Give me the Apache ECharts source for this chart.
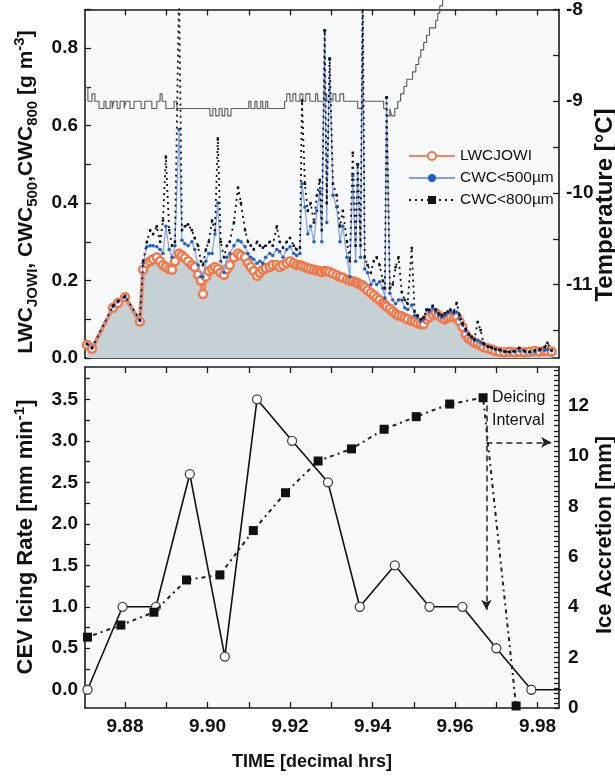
<!DOCTYPE html>
<html>
<head>
<meta charset="utf-8">
<script src="https://cdn.jsdelivr.net/npm/echarts@6/dist/echarts.min.js"></script>
<style>
  html, body { margin: 0; padding: 0; background: #ffffff; }
  #c { width: 615px; height: 780px; }
</style>
</head>
<body>
<div id="c"></div>
<script>
// ---- Upper panel: water content samples (time in decimal hours) ----
const tTop = [
  9.8708, 9.8720, 9.8771, 9.8783, 9.8800, 9.8836,
  9.8844, 9.8853, 9.8861, 9.8868, 9.8877, 9.8885, 9.8892, 9.8899, 9.8907, 9.8914, 9.8921,
  9.8931, 9.8938, 9.8945, 9.8953, 9.8962, 9.8969, 9.8977, 9.8984, 9.8989, 9.8996, 9.9003, 9.9011, 9.9018, 9.9025, 9.9032, 9.9040, 9.9047, 9.9054,
  9.9064, 9.9074, 9.9081, 9.9091, 9.9098, 9.9105, 9.9112, 9.9120, 9.9127, 9.9134, 9.9141, 9.9151, 9.9158, 9.9168, 9.9175, 9.9183, 9.9192, 9.9200, 9.9209, 9.9216, 9.9224,
  9.9229, 9.9236, 9.9243, 9.9250, 9.9258, 9.9265, 9.9272, 9.9277, 9.9284, 9.9289, 9.9296,
  9.9304, 9.9313, 9.9321, 9.9328, 9.9338, 9.9345, 9.9352, 9.9359, 9.9364, 9.9371, 9.9376,
  9.9381, 9.9388, 9.9396, 9.9403, 9.9410, 9.9417, 9.9425, 9.9430, 9.9434,
  9.9442, 9.9449, 9.9456, 9.9463, 9.9471, 9.9478, 9.9485, 9.9495,
  9.9502, 9.9509, 9.9517, 9.9524, 9.9531, 9.9538, 9.9546, 9.9553, 9.9560, 9.9568, 9.9575, 9.9582, 9.9589, 9.9597, 9.9604,
  9.9611, 9.9618, 9.9626, 9.9633, 9.9640, 9.9647, 9.9655, 9.9662, 9.9669, 9.9679,
  9.9689, 9.9698, 9.9708, 9.9720, 9.9732, 9.9744, 9.9756, 9.9769, 9.9781, 9.9793, 9.9805, 9.9817, 9.9824, 9.9834
];
const lwcJowi = [
  0.034, 0.024, 0.130, 0.142, 0.157, 0.094,
  0.228, 0.245, 0.250, 0.255, 0.260, 0.250, 0.240, 0.235, 0.230, 0.228, 0.250,
  0.270, 0.265, 0.258, 0.250, 0.240, 0.235, 0.215, 0.200, 0.165, 0.210, 0.225, 0.230, 0.235, 0.230, 0.220, 0.215, 0.230, 0.240,
  0.260, 0.270, 0.265, 0.260, 0.245, 0.235, 0.225, 0.212, 0.220, 0.228, 0.232, 0.235, 0.240, 0.240, 0.235, 0.240, 0.245, 0.250, 0.245, 0.240, 0.240,
  0.238, 0.235, 0.232, 0.230, 0.228, 0.226, 0.225, 0.222, 0.225, 0.224, 0.222,
  0.218, 0.214, 0.210, 0.207, 0.203, 0.200, 0.198, 0.196, 0.193, 0.190, 0.188,
  0.182, 0.175, 0.168, 0.162, 0.155, 0.150, 0.142, 0.138, 0.133,
  0.127, 0.120, 0.114, 0.110, 0.108, 0.104, 0.100, 0.096,
  0.094, 0.090, 0.087, 0.088, 0.100, 0.106, 0.112, 0.116, 0.110, 0.104, 0.100, 0.104, 0.106, 0.105, 0.106,
  0.094, 0.080, 0.060, 0.050, 0.045, 0.040, 0.036, 0.032, 0.028, 0.025,
  0.022, 0.018, 0.016, 0.015, 0.016, 0.015, 0.016, 0.015, 0.016, 0.018, 0.017, 0.018, 0.018, 0.017
];
const cwc500 = [
  0.036, 0.026, 0.133, 0.145, 0.157, 0.096,
  0.245, 0.287, 0.290, 0.290, 0.287, 0.280, 0.270, 0.340, 0.280, 0.260, 0.290,
  0.590, 0.304, 0.295, 0.290, 0.300, 0.280, 0.240, 0.210, 0.210, 0.250, 0.270, 0.270, 0.320, 0.400, 0.250, 0.220, 0.260, 0.270,
  0.290, 0.304, 0.300, 0.287, 0.270, 0.260, 0.255, 0.245, 0.250, 0.245, 0.260, 0.270, 0.265, 0.280, 0.275, 0.260, 0.280, 0.287, 0.270, 0.265, 0.270,
  0.450, 0.390, 0.320, 0.340, 0.300, 0.380, 0.430, 0.300, 0.846, 0.350, 0.773,
  0.420, 0.390, 0.300, 0.340, 0.260, 0.210, 0.470, 0.250, 0.500, 0.260, 0.950,
  0.230, 0.220, 0.190, 0.200, 0.190, 0.197, 0.180, 0.155, 0.673,
  0.167, 0.150, 0.140, 0.150, 0.150, 0.130, 0.125, 0.137,
  0.110, 0.106, 0.095, 0.100, 0.124, 0.120, 0.129, 0.120, 0.110, 0.105, 0.110, 0.116, 0.120, 0.115, 0.119,
  0.100, 0.085, 0.070, 0.060, 0.052, 0.045, 0.045, 0.040, 0.035, 0.030,
  0.026, 0.022, 0.020, 0.016, 0.015, 0.016, 0.018, 0.016, 0.015, 0.016, 0.020, 0.020, 0.022, 0.019
];
const cwc800 = [
  0.036, 0.026, 0.135, 0.147, 0.160, 0.098,
  0.250, 0.300, 0.330, 0.320, 0.340, 0.300, 0.355, 0.520, 0.330, 0.290, 0.300,
  0.950, 0.330, 0.340, 0.345, 0.330, 0.310, 0.290, 0.250, 0.240, 0.280, 0.300, 0.355, 0.330, 0.567, 0.300, 0.260, 0.290, 0.300,
  0.350, 0.440, 0.400, 0.330, 0.300, 0.290, 0.280, 0.300, 0.290, 0.285, 0.290, 0.300, 0.290, 0.340, 0.300, 0.285, 0.300, 0.310, 0.290, 0.280, 0.285,
  0.665, 0.450, 0.380, 0.400, 0.350, 0.420, 0.460, 0.330, 0.846, 0.400, 0.773,
  0.450, 0.420, 0.340, 0.380, 0.300, 0.250, 0.530, 0.290, 0.500, 0.290, 0.950,
  0.260, 0.240, 0.220, 0.250, 0.260, 0.240, 0.200, 0.180, 0.673,
  0.180, 0.190, 0.235, 0.260, 0.170, 0.150, 0.140, 0.284,
  0.120, 0.110, 0.100, 0.105, 0.125, 0.125, 0.135, 0.125, 0.115, 0.110, 0.115, 0.120, 0.125, 0.120, 0.142,
  0.110, 0.090, 0.075, 0.062, 0.055, 0.048, 0.093, 0.072, 0.038, 0.030,
  0.027, 0.023, 0.021, 0.017, 0.016, 0.018, 0.026, 0.018, 0.016, 0.020, 0.022, 0.028, 0.039, 0.020
];

// ---- Upper panel: air temperature (°C), stepped record ----
const tTemp = [
  9.8703, 9.8710, 9.8720, 9.8727, 9.8737, 9.8749, 9.8754, 9.8764, 9.8769, 9.8773,
  9.8781, 9.8788, 9.8798, 9.8802, 9.8812, 9.8822, 9.8839, 9.8848, 9.8865, 9.8877,
  9.8885, 9.8890, 9.8899, 9.8919, 9.8926, 9.9006, 9.9013, 9.9020, 9.9028, 9.9035,
  9.9042, 9.9049, 9.9057, 9.9100, 9.9105, 9.9115, 9.9120, 9.9129, 9.9134, 9.9141,
  9.9146, 9.9187, 9.9192, 9.9200, 9.9207, 9.9214, 9.9224, 9.9231, 9.9238, 9.9248,
  9.9262, 9.9267, 9.9282, 9.9289, 9.9304, 9.9311, 9.9321, 9.9330, 9.9364, 9.9376,
  9.9427, 9.9434, 9.9442, 9.9446, 9.9454, 9.9461, 9.9468, 9.9476, 9.9483, 9.9497,
  9.9505, 9.9512, 9.9517, 9.9524, 9.9531, 9.9538, 9.9553, 9.9558, 9.9563, 9.9570
];
const temperature = [
  -8.85, -9.00, -8.92, -9.00, -9.08, -9.00, -9.08, -9.00, -9.08, -9.00,
  -9.08, -9.00, -9.08, -9.00, -9.08, -9.00, -9.08, -9.00, -9.08, -9.00,
  -8.92, -9.00, -9.08, -9.00, -9.08, -9.16, -9.08, -9.16, -9.08, -9.16,
  -9.08, -9.16, -9.08, -9.00, -9.08, -9.00, -9.08, -9.00, -9.08, -9.00,
  -9.08, -9.00, -8.92, -9.00, -8.92, -9.00, -8.92, -9.00, -8.92, -9.00,
  -8.92, -9.00, -8.92, -9.00, -8.92, -9.00, -8.92, -9.00, -9.08, -9.00,
  -9.08, -9.16, -9.08, -9.16, -9.08, -9.00, -8.92, -8.84, -8.76, -8.68,
  -8.60, -8.52, -8.44, -8.36, -8.28, -8.20, -8.12, -8.04, -7.96, -7.88
];

// ---- Lower panel: cylinder icing rate and accreted ice ----
const tIcing = [9.8709, 9.8794, 9.8875, 9.8957, 9.9042, 9.9120, 9.9205, 9.9292, 9.9369, 9.9454, 9.9538, 9.9618, 9.9700, 9.9785];
const icingRate = [0.0, 1.0, 1.0, 2.6, 0.4, 3.5, 3.0, 2.5, 1.0, 1.5, 1.0, 1.0, 0.5, 0.0];
const icingTail = [9.9894, 0.0];

const tAccretion = [9.8709, 9.8790, 9.8870, 9.8949, 9.9030, 9.9111, 9.9189, 9.9268, 9.9349, 9.9428, 9.9506, 9.9587, 9.9668, 9.9748];
const iceAccretion = [2.81, 3.29, 3.80, 5.08, 5.28, 7.04, 8.54, 9.80, 10.28, 11.06, 11.56, 12.06, 12.31, 0.08];

// Deicing interval arrows: [time, ice accretion mm] start/end
const deicingDown = [[9.9676, 12.0], [9.9676, 3.9]];
const deicingRight = [[9.9676, 10.54], [9.9833, 10.54]];

// ---- Axis ticks and labels ----
const timeTicks = [9.88, 9.89, 9.90, 9.91, 9.92, 9.93, 9.94, 9.95, 9.96, 9.97, 9.98];
const timeLabels = [9.88, 9.90, 9.92, 9.94, 9.96, 9.98];
const tempTicks = [-11.5, -11, -10.5, -10, -9.5, -9, -8.5, -8];
const tempLabels = [-11, -10, -9, -8];
const rateTicks = [0, 0.25, 0.5, 0.75, 1, 1.25, 1.5, 1.75, 2, 2.25, 2.5, 2.75, 3, 3.25, 3.5, 3.75];
const rateLabels = [0, 0.5, 1, 1.5, 2, 2.5, 3, 3.5];
const accretionLabels = [0, 2, 4, 6, 8, 10, 12];
const ACC_MAX = 13.53;
// ruler ticks every 0.2 mm along the ice accretion axis
const accretionRuler = [];
for (let k = 0; k * 0.2 <= ACC_MAX; k++) accretionRuler.push(Math.round(k * 2) / 10);

const pairs = (ts, vs) => ts.map((t, i) => [t, vs[i]]);

const FONT = '"Liberation Sans", Arial, sans-serif';
const INK = '#1b1b1b';
const X_MIN = 9.8703, X_MAX = 9.9852;
const labelStyle = { color: '#111', fontSize: 19, fontWeight: 'bold', fontFamily: FONT };
const lineCfg = { show: true, onZero: false, lineStyle: { color: INK, width: 1.6 } };
const tickStyle = { color: INK, width: 1.3 };

function xAxisCfg(gridIndex, position, withLabels) {
  return {
    type: 'value', gridIndex, position, min: X_MIN, max: X_MAX,
    axisLine: lineCfg,
    axisTick: { show: true, inside: true, length: 6, customValues: timeTicks, lineStyle: tickStyle },
    axisLabel: withLabels
      ? Object.assign({ show: true, customValues: timeLabels, formatter: v => v.toFixed(2), margin: 9 }, labelStyle)
      : { show: false },
    splitLine: { show: false }
  };
}

const chart = echarts.init(document.getElementById('c'), null, { renderer: 'canvas' });

const option = {
  animation: false,
  backgroundColor: '#ffffff',
  grid: [
    { left: 85, top: 9, width: 474, height: 349, show: true, backgroundColor: '#f8f9fb', borderWidth: 0 },
    { left: 85, top: 367, width: 474, height: 341, show: true, backgroundColor: '#f8f9fb', borderWidth: 0 }
  ],
  xAxis: [
    xAxisCfg(0, 'bottom', false),
    xAxisCfg(0, 'top', false),
    xAxisCfg(1, 'bottom', true),
    xAxisCfg(1, 'top', false)
  ],
  yAxis: [
    {
      type: 'value', gridIndex: 0, position: 'left', min: 0, max: 0.9, interval: 0.1,
      axisLine: lineCfg,
      axisTick: { show: true, inside: true, length: 6, lineStyle: tickStyle },
      axisLabel: Object.assign({
        margin: 7,
        formatter: v => { const k = Math.round(v * 10); return (k % 2 === 0 && k <= 8) ? (k / 10).toFixed(1) : ''; }
      }, labelStyle),
      splitLine: { show: false }
    },
    {
      type: 'value', gridIndex: 0, position: 'right', min: -11.8, max: -8,
      axisLine: lineCfg,
      axisTick: { show: true, inside: true, length: 6, customValues: tempTicks, lineStyle: tickStyle },
      axisLabel: Object.assign({ margin: 7, customValues: tempLabels, formatter: v => String(v) }, labelStyle),
      splitLine: { show: false }
    },
    {
      type: 'value', gridIndex: 1, position: 'left', min: -0.22, max: 3.89,
      axisLine: lineCfg,
      axisTick: { show: true, inside: true, length: 5, customValues: rateTicks, lineStyle: tickStyle },
      axisLabel: Object.assign({ margin: 7, customValues: rateLabels, formatter: v => v.toFixed(1) }, labelStyle),
      splitLine: { show: false }
    },
    {
      type: 'value', gridIndex: 1, position: 'right', min: 0, max: ACC_MAX,
      axisLine: lineCfg,
      axisTick: { show: true, inside: true, length: 5, customValues: accretionRuler, lineStyle: { color: INK, width: 1.3 } },
      axisLabel: Object.assign({ margin: 9, customValues: accretionLabels, formatter: v => String(v) }, labelStyle),
      splitLine: { show: false }
    }
  ],
  legend: {
    data: ['LWCJOWI', 'CWC<500µm', 'CWC<800µm'],
    orient: 'vertical', left: 403, top: 143,
    itemWidth: 46, itemHeight: 10, itemGap: 6,
    textStyle: { color: '#111', fontSize: 15.5, lineHeight: 14, fontFamily: FONT },
    selectedMode: false
  },
  series: [
    {
      name: 'LWCJOWI', type: 'line', xAxisIndex: 0, yAxisIndex: 0,
      data: pairs(tTop, lwcJowi),
      symbol: 'circle', symbolSize: 8,
      lineStyle: { color: '#f4875a', width: 4 },
      itemStyle: { color: '#ffffff', borderColor: '#f2784a', borderWidth: 2.5 },
      areaStyle: { color: '#c6d1d6', opacity: 1 },
      z: 2
    },
    {
      name: 'CWC<500µm', type: 'line', xAxisIndex: 0, yAxisIndex: 0,
      data: pairs(tTop, cwc500),
      symbol: 'circle', symbolSize: 3.5,
      lineStyle: { color: '#7f9fe6', width: 1.2 },
      itemStyle: { color: '#1c5fc7' },
      z: 3
    },
    {
      name: 'CWC<800µm', type: 'line', xAxisIndex: 0, yAxisIndex: 0,
      data: pairs(tTop, cwc800),
      symbol: 'rect', symbolSize: 2.5,
      lineStyle: { color: '#111', width: 1.8, type: [2, 4] },
      itemStyle: { color: '#111' },
      z: 4
    },
    {
      name: 'Temperature', type: 'line', xAxisIndex: 0, yAxisIndex: 1,
      data: pairs(tTemp, temperature),
      step: 'end', symbol: 'none', clip: false,
      lineStyle: { color: '#5a5a5a', width: 1.1 },
      z: 1
    },
    {
      name: 'CEV icing rate', type: 'line', xAxisIndex: 2, yAxisIndex: 2,
      data: pairs(tIcing, icingRate).concat([{ value: icingTail, symbol: 'none' }]),
      symbol: 'circle', symbolSize: 9, clip: false,
      lineStyle: { color: '#111', width: 1.6 },
      itemStyle: { color: '#ffffff', borderColor: '#444', borderWidth: 1.3 },
      z: 3
    },
    {
      name: 'Ice accretion', type: 'line', xAxisIndex: 2, yAxisIndex: 3,
      data: pairs(tAccretion, iceAccretion),
      symbol: 'rect', symbolSize: 9,
      lineStyle: { color: '#222', width: 2, type: [2, 4, 4, 4] },
      itemStyle: { color: '#111' },
      markLine: {
        silent: true, symbol: ['none', 'arrow'], symbolSize: [8, 10],
        label: { show: false },
        lineStyle: { color: '#222', width: 1.5, type: [6, 4] },
        data: [
          [{ coord: deicingDown[0] }, { coord: deicingDown[1] }],
          [{ coord: deicingRight[0] }, { coord: deicingRight[1] }]
        ]
      },
      z: 4
    }
  ],
  graphic: [
    {
      type: 'text', x: 26, y: 192, rotation: Math.PI / 2,
      style: {
        text: 'LWC{sub|JOWI}, CWC{sub|500},CWC{sub|800} [g m{sup|-3}]',
        fontSize: 21, fontWeight: 'bold', fontFamily: FONT, fill: '#111',
        align: 'center', verticalAlign: 'middle', lineHeight: 28,
        rich: {
          sub: { fontSize: 15, fontWeight: 'bold', fontFamily: FONT, verticalAlign: 'bottom', lineHeight: 15 },
          sup: { fontSize: 15, fontWeight: 'bold', fontFamily: FONT, verticalAlign: 'top', lineHeight: 15 }
        }
      }
    },
    {
      type: 'text', x: 605, y: 205, rotation: Math.PI / 2,
      style: { text: 'Temperature [°C]', fontSize: 24, fontWeight: 'bold', fontFamily: FONT, fill: '#111', align: 'center', verticalAlign: 'middle' }
    },
    {
      type: 'text', x: 26, y: 537, rotation: Math.PI / 2,
      style: {
        text: 'CEV Icing Rate [mm min{sup|-1}]',
        fontSize: 22, fontWeight: 'bold', fontFamily: FONT, fill: '#111',
        align: 'center', verticalAlign: 'middle', lineHeight: 28,
        rich: { sup: { fontSize: 15, fontWeight: 'bold', fontFamily: FONT, verticalAlign: 'top', lineHeight: 15 } }
      }
    },
    {
      type: 'text', x: 605, y: 535, rotation: Math.PI / 2,
      style: { text: 'Ice Accretion [mm]', fontSize: 22, fontWeight: 'bold', fontFamily: FONT, fill: '#111', align: 'center', verticalAlign: 'middle' }
    },
    {
      type: 'text', x: 312, y: 762,
      style: { text: 'TIME [decimal hrs]', fontSize: 18, fontWeight: 'bold', fontFamily: FONT, fill: '#111', align: 'center', verticalAlign: 'middle' }
    },
    {
      type: 'text', x: 492, y: 398,
      style: { text: 'Deicing', fontSize: 16, fontFamily: FONT, fill: '#111', align: 'left', verticalAlign: 'middle' }
    },
    {
      type: 'text', x: 492, y: 421,
      style: { text: 'Interval', fontSize: 16, fontFamily: FONT, fill: '#111', align: 'left', verticalAlign: 'middle' }
    }
  ]
};

chart.setOption(option);
</script>
</body>
</html>
